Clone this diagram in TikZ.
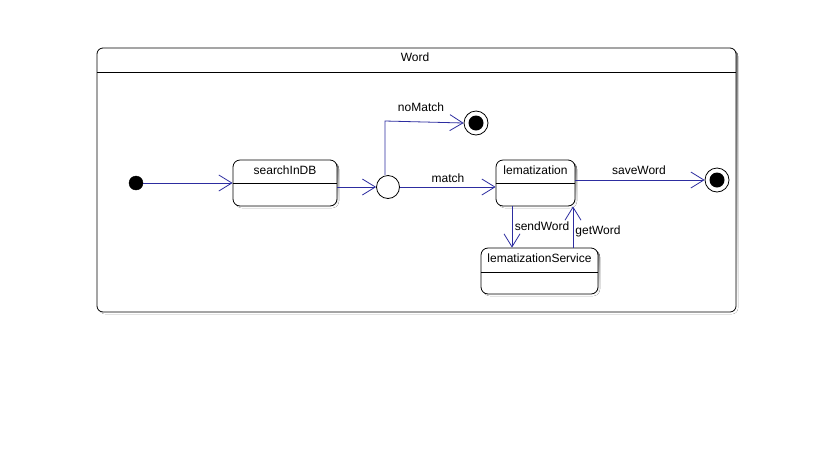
\documentclass[tikz,border=0pt]{standalone}
\usepackage{fontspec}
\setmainfont{Liberation Sans}
\usetikzlibrary{arrows.meta,calc}
\definecolor{flow}{RGB}{45,45,160}
\definecolor{shade}{RGB}{185,185,185}
\tikzset{
  statebox/.style={draw=black, line width=0.8pt, rounded corners=7pt, fill=white, inner sep=0pt},
  txt/.style={font=\fontsize{12}{14}\selectfont, inner sep=1pt},
  flowline/.style={draw=flow, line width=0.8pt, -{Straight Barb[length=13pt,width=16pt,line width=0.8pt]}},
  initstate/.style={circle, fill=black, draw=black, minimum size=14pt, inner sep=0pt},
  finalring/.style={circle, draw=black, line width=0.8pt, fill=white, minimum size=24pt, inner sep=0pt},
  junction/.style={circle, draw=black, line width=0.8pt, fill=white, minimum size=23pt, inner sep=0pt},
}
\newcommand{\shadowbox}[4]{%
  \fill[shade, rounded corners=7pt] (#1+2,#2+2) rectangle (#3+2,#4+2);}
\begin{document}
\begin{tikzpicture}[x=1pt, y=-1pt]
\useasboundingbox (0,0) rectangle (832,456);
\fill[white] (0,0) rectangle (832,456);

% outer composite state
\fill[shade, rounded corners=6pt] (99,50) rectangle (738,314);
\draw[line width=0.8pt, fill=white, rounded corners=6pt] (97,48) rectangle (736,312);
\draw[line width=0.8pt] (97,72) -- (736,72);
\node[txt] (title) at (415,57) {Word};

% states
\shadowbox{233}{160}{337}{206}
\node[statebox, minimum width=104pt, minimum height=46pt] (search) at (285,183) {};
\draw[line width=0.8pt] ($(search.north west)+(0,24)$) -- ($(search.north east)+(0,24)$);
\node[txt] (searchlbl) at (285,170) {searchInDB};

\shadowbox{496}{160}{575}{206}
\node[statebox, minimum width=79pt, minimum height=46pt] (lem) at (535.5,183) {};
\draw[line width=0.8pt] ($(lem.north west)+(0,24)$) -- ($(lem.north east)+(0,24)$);
\node[txt] (lemlbl) at (535.5,170) {lematization};

\shadowbox{481}{248}{598}{294}
\node[statebox, minimum width=117pt, minimum height=46pt] (svc) at (539.5,271) {};
\draw[line width=0.8pt] ($(svc.north west)+(0,25)$) -- ($(svc.north east)+(0,25)$);
\node[txt] (svclbl) at (539.5,258) {lematizationService};

% pseudo states
\node[initstate] (init) at (136,183) {};
\node[junction] (junc) at (388,187) {};
\node[finalring] (fin1) at (476,123) {};
\fill[black] (fin1) circle (7.5pt);
\node[finalring] (fin2) at (717,180) {};
\fill[black] (fin2) circle (7.5pt);

% transitions
\coordinate (bend) at (385,121);
\draw[flowline] (init) -- (search.west |- init);
\draw[flowline] (search.east |- junc) -- (junc.west);
\draw[flowline] (junc.north -| bend) -- (bend) -- (fin1.west);
\draw[flowline] (junc.east) -- (lem.west |- junc);
\draw[flowline] (lem.east |- fin2) -- (fin2.west);
\draw[flowline] (lem.south -| 512,0) -- (svc.north -| 512,0);
\draw[flowline] (svc.north -| 573,0) -- (lem.south -| 573,0);

% transition labels
\node[txt] (lnomatch) at (421,107) {noMatch};
\node[txt] (lmatch) at (448,178) {match};
\node[txt] (lsave) at (639,170) {saveWord};
\node[txt] (lsend) at (542,226) {sendWord};
\node[txt] (lget) at (598,231) {getWord};
\end{tikzpicture}
\end{document}
